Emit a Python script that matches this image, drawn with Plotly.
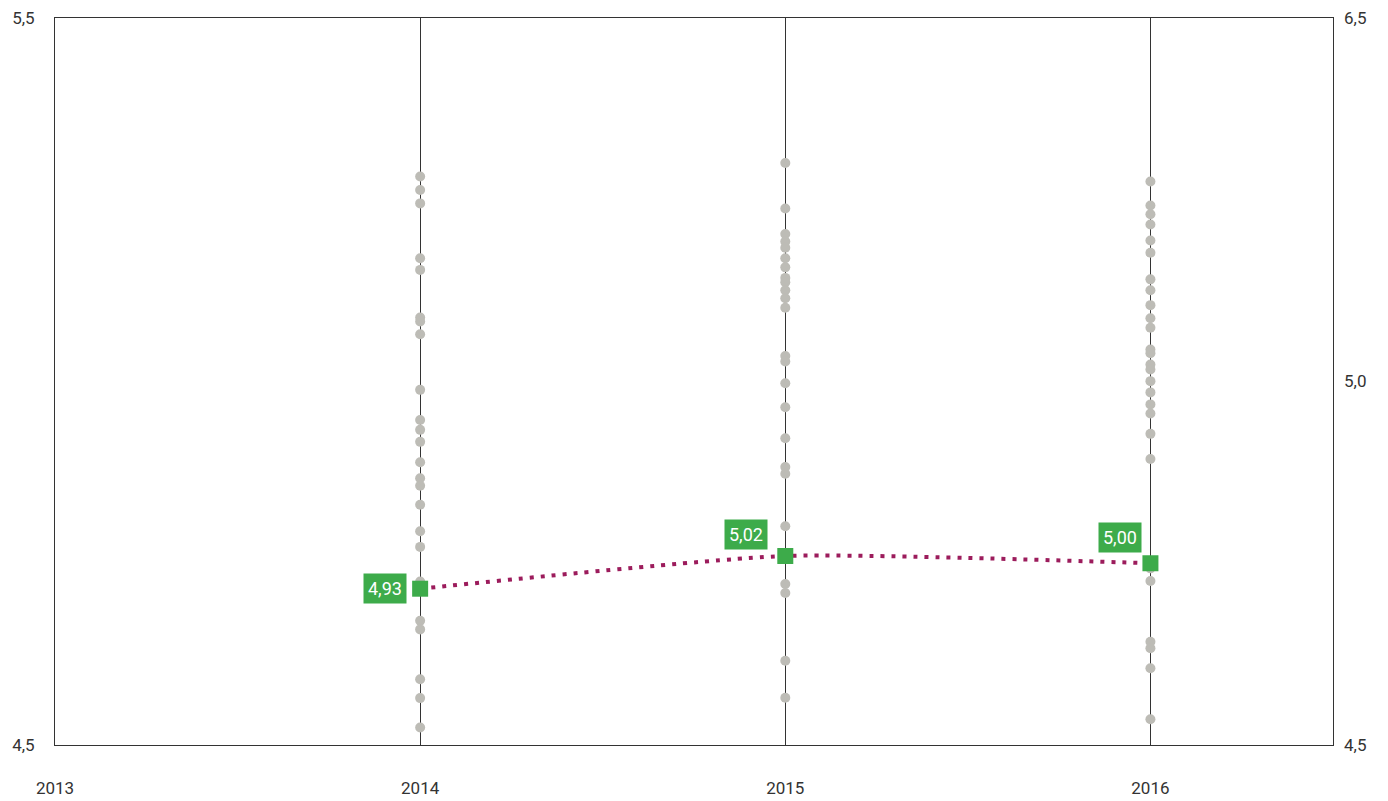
import plotly.graph_objects as go

# ---- data ----
years = [2014, 2015, 2016]
dots_2014 = [6.064, 6.027, 5.990, 5.839, 5.807, 5.676, 5.665, 5.630, 5.477, 5.394,
             5.367, 5.334, 5.278, 5.234, 5.213, 5.161, 5.088, 5.045, 4.950, 4.842,
             4.818, 4.681, 4.629, 4.548]
dots_2015 = [6.101, 5.976, 5.906, 5.885, 5.868, 5.839, 5.814, 5.785, 5.773, 5.751,
             5.729, 5.703, 5.570, 5.555, 5.495, 5.429, 5.344, 5.265, 5.246, 5.102,
             4.943, 4.918, 4.732, 4.630]
dots_2016 = [6.050, 5.984, 5.960, 5.932, 5.888, 5.854, 5.781, 5.751, 5.710, 5.674,
             5.648, 5.588, 5.578, 5.547, 5.533, 5.501, 5.470, 5.437, 5.412, 5.356,
             5.287, 4.986, 4.951, 4.784, 4.766, 4.711, 4.571]
means = [4.93, 5.02, 5.00]
mean_labels = ["4,93", "5,02", "5,00"]

x_ticks = [2013, 2014, 2015, 2016]
x_ticktext = ["2013", "2014", "2015", "2016"]
left_tickvals = [4.5, 6.5]
left_ticktext = ["4,5", "5,5"]
right_tickvals = [4.5, 5.5, 6.5]
right_ticktext = ["4,5", "5,0", "6,5"]

FONT = "Roboto, sans-serif"
GREEN = "#3dab4a"
PURPLE = "#9c1c5c"
GRAY_DOT = "#bdbcb6"
AXIS = "#333333"

fig = go.Figure()

for yr, vals in zip(years, [dots_2014, dots_2015, dots_2016]):
    fig.add_trace(go.Scatter(
        x=[yr] * len(vals), y=vals, mode="markers",
        marker=dict(size=10, color=GRAY_DOT, line=dict(width=0)),
        hoverinfo="y", showlegend=False,
    ))

fig.add_trace(go.Scatter(
    x=years, y=means, mode="lines+markers",
    line=dict(color=PURPLE, width=4, dash="4px,7px", shape="spline", smoothing=0.55),
    marker=dict(symbol="square", size=16, color=GREEN, line=dict(width=0)),
    showlegend=False, hoverinfo="y",
))

# invisible trace for right axis
fig.add_trace(go.Scatter(x=years, y=means, yaxis="y2", mode="markers",
                         marker=dict(opacity=0), hoverinfo="skip", showlegend=False))

shifts = [(-13, 0), (-17, 21), (-8, 26)]
for yr, m, lab, (xs, ys) in zip(years, means, mean_labels, shifts):
    fig.add_annotation(
        x=yr, y=m, text=lab, showarrow=False,
        xanchor="right", yanchor="middle", xshift=xs, yshift=ys,
        bgcolor=GREEN, font=dict(color="white", size=18, family=FONT),
        borderpad=4,
    )

fig.update_layout(
    width=1380, height=793,
    margin=dict(l=47, r=55, t=10, b=56),
    plot_bgcolor="white", paper_bgcolor="white",
    font=dict(family=FONT, size=17, color=AXIS),
    xaxis=dict(
        range=[2013, 2016.5], tickvals=x_ticks, ticktext=x_ticktext,
        showgrid=True, gridcolor=AXIS, gridwidth=1, zeroline=False,
        showline=True, linecolor=AXIS, linewidth=1, mirror=True,
        ticks="", ticklabelstandoff=28, automargin=False,
        ticklabeloverflow="allow",
    ),
    yaxis=dict(
        range=[4.5, 6.5], tickvals=left_tickvals, ticktext=left_ticktext,
        showgrid=False, zeroline=False,
        showline=True, linecolor=AXIS, linewidth=1, mirror=True,
        ticks="", ticklabelstandoff=16, automargin=False,
        ticklabeloverflow="allow",
    ),
    yaxis2=dict(
        range=[4.5, 6.5], tickvals=right_tickvals, ticktext=right_ticktext,
        overlaying="y", side="right", showgrid=False, zeroline=False,
        showline=False, ticks="", ticklabelstandoff=10, automargin=False,
        ticklabeloverflow="allow",
    ),
)

fig.write_html("out.html")
